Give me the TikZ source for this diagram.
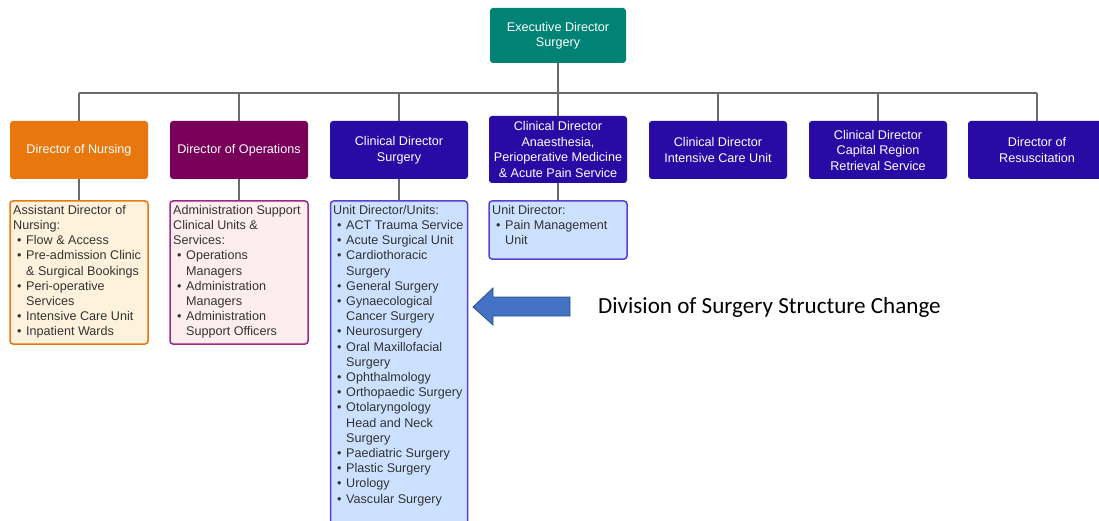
\documentclass[tikz,border=0pt]{standalone}
\usepackage{fontspec}
\setmainfont{Liberation Sans}
\newfontfamily\calfont{Carlito}
\definecolor{execteal}{HTML}{008274}
\definecolor{nurs}{HTML}{E8770E}
\definecolor{ops}{HTML}{780058}
\definecolor{cdblue}{HTML}{280AA5}
\definecolor{nursfill}{HTML}{FFF2DC}
\definecolor{opsfill}{HTML}{FDEDEF}
\definecolor{bluefill}{HTML}{CCE1FF}
\definecolor{blueline}{HTML}{5A3FD0}
\definecolor{opsline}{HTML}{9C2A82}
\definecolor{linegrey}{HTML}{6A6A6A}
\definecolor{arrowfill}{HTML}{4472C4}
\definecolor{arrowline}{HTML}{2F528F}
\definecolor{txtgrey}{HTML}{333333}
\newcommand{\itm}[1]{\hspace*{4pt}\makebox[9pt][l]{\textbullet}#1}
\newcommand{\cnt}[1]{\hspace*{13pt}#1}
\begin{document}
\begin{tikzpicture}[x=1pt,y=-1pt,
  hdr/.style={rounded corners=3pt, text=white, align=center, inner sep=0pt,
    minimum width=138pt, minimum height=58pt,
    font=\fontsize{12.6}{15.5}\selectfont},
  subbox/.style={rounded corners=3pt, line width=1.5pt, minimum width=137pt, inner sep=0pt},
  subtext/.style={anchor=north west, align=left, inner sep=0pt, text=txtgrey,
    font=\fontsize{12.6}{15.2}\selectfont},
  conn/.style={draw=linegrey, line width=1.3pt}
]
\clip (0,0) rectangle (1099,521);
\fill[white] (0,0) rectangle (1099,521);

% top
\node[hdr, fill=execteal, minimum width=136pt, minimum height=55pt] (exec) at (558,35.5) {Executive Director\\Surgery};

% second row
\node[hdr, fill=nurs] (nd) at (79,150) {Director of Nursing};
\node[hdr, fill=ops] (od) at (239,150) {Director of Operations};
\node[hdr, fill=cdblue] (cds) at (399,150) {Clinical Director\\Surgery};
\node[hdr, fill=cdblue, minimum height=67pt] (cda) at (558,149.5) {Clinical Director\\Anaesthesia,\\Perioperative Medicine\\\& Acute Pain Service};
\node[hdr, fill=cdblue] (cdi) at (718,150) {Clinical Director\\Intensive Care Unit};
\node[hdr, fill=cdblue] (cdr) at (878,150) {Clinical Director\\Capital Region\\Retrieval Service};
\node[hdr, fill=cdblue] (dr) at (1037,150) {Director of\\Resuscitation};

% bus
\coordinate (bus) at (558,93);
\coordinate (busL) at (79,93);
\coordinate (busR) at (1037,93);
\draw[conn] (exec.south) -- (bus);
\draw[conn] (busL) -- (busR);
\foreach \n in {nd,od,cds,cda,cdi,cdr,dr}{
  \draw[conn] (\n.north |- bus) -- (\n.north);
}

% sub boxes
\node[subbox, draw=nurs, fill=nursfill, minimum width=138pt, minimum height=143pt] (nsub) at (79,272.5) {};
\node[subtext] at (13,205) {Assistant Director of\\Nursing:\\
\itm{Flow \& Access}\\
\itm{Pre-admission Clinic}\\
\cnt{\& Surgical Bookings}\\
\itm{Peri-operative}\\
\cnt{Services}\\
\itm{Intensive Care Unit}\\
\itm{Inpatient Wards}};

\node[subbox, draw=opsline, fill=opsfill, minimum width=138pt, minimum height=143pt] (osub) at (239,272.5) {};
\node[subtext] at (173,205) {Administration Support\\Clinical Units \&\\Services:\\
\itm{Operations}\\
\cnt{Managers}\\
\itm{Administration}\\
\cnt{Managers}\\
\itm{Administration}\\
\cnt{Support Officers}};

\node[subbox, draw=blueline, fill=bluefill, minimum width=137pt, minimum height=330pt] (ssub) at (399,366) {};
\node[subtext] at (333,205) {Unit Director/Units:\\
\itm{ACT Trauma Service}\\
\itm{Acute Surgical Unit}\\
\itm{Cardiothoracic}\\
\cnt{Surgery}\\
\itm{General Surgery}\\
\itm{Gynaecological}\\
\cnt{Cancer Surgery}\\
\itm{Neurosurgery}\\
\itm{Oral Maxillofacial}\\
\cnt{Surgery}\\
\itm{Ophthalmology}\\
\itm{Orthopaedic Surgery}\\
\itm{Otolaryngology}\\
\cnt{Head and Neck}\\
\cnt{Surgery}\\
\itm{Paediatric Surgery}\\
\itm{Plastic Surgery}\\
\itm{Urology}\\
\itm{Vascular Surgery}};

\node[subbox, draw=blueline, fill=bluefill, minimum width=138pt, minimum height=58pt] (asub) at (558,230) {};
\node[subtext] at (492,205) {Unit Director:\\
\itm{Pain Management}\\
\cnt{Unit}};

\draw[conn] (nd.south) -- (nsub.north);
\draw[conn] (od.south) -- (osub.north);
\draw[conn] (cds.south) -- (ssub.north);
\draw[conn] (cda.south) -- (asub.north);

% arrow
\draw[fill=arrowfill, draw=arrowline, line width=0.8pt] (473,307) -- (493,288) -- (493,297) -- (570,297) -- (570,316) -- (493,316) -- (493,325) -- cycle;
\node[anchor=west, inner sep=0pt, font=\calfont\fontsize{23.1}{27}\selectfont, text=black] (lbl) at (598,307) {Division of Surgery Structure Change};
\end{tikzpicture}
\end{document}
